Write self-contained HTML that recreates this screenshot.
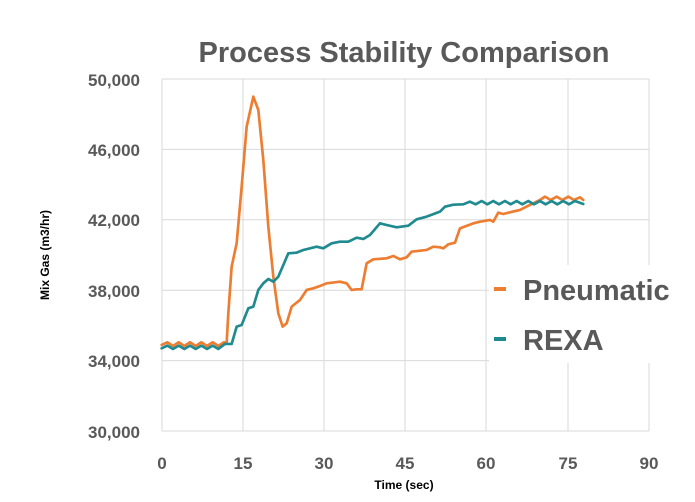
<!DOCTYPE html>
<html><head><style>
html,body{margin:0;padding:0;background:#fff;}
svg{display:block;font-family:"Liberation Sans",sans-serif;}
</style></head><body>
<svg width="695" height="502" viewBox="0 0 695 502">
<rect width="695" height="502" fill="#fff"/>
<text x="404" y="62" text-anchor="middle" font-size="29" font-weight="bold" fill="#595959">Process Stability Comparison</text>
<g stroke="#d9d9d9" stroke-width="1">
<line x1="162" y1="79" x2="649" y2="79"/><line x1="162" y1="149.4" x2="649" y2="149.4"/>
<line x1="162" y1="219.8" x2="649" y2="219.8"/><line x1="162" y1="290.2" x2="649" y2="290.2"/>
<line x1="162" y1="360.6" x2="649" y2="360.6"/><line x1="162" y1="431" x2="649" y2="431"/>
<line x1="162" y1="79" x2="162" y2="431"/><line x1="243" y1="79" x2="243" y2="431"/>
<line x1="324" y1="79" x2="324" y2="431"/><line x1="405" y1="79" x2="405" y2="431"/>
<line x1="486" y1="79" x2="486" y2="431"/><line x1="568" y1="79" x2="568" y2="431"/>
<line x1="649" y1="79" x2="649" y2="431"/>
</g>
<g font-size="17" font-weight="bold" fill="#595959" text-anchor="end">
<text x="140" y="86">50,000</text><text x="140" y="156">46,000</text>
<text x="140" y="226">42,000</text><text x="140" y="297">38,000</text>
<text x="140" y="367">34,000</text><text x="140" y="438">30,000</text>
</g>
<g font-size="17" font-weight="bold" fill="#595959" text-anchor="middle">
<text x="162" y="469">0</text><text x="243" y="469">15</text><text x="324" y="469">30</text>
<text x="405" y="469">45</text><text x="486" y="469">60</text><text x="568" y="469">75</text><text x="649" y="469">90</text>
</g>
<text x="404" y="489" text-anchor="middle" font-size="12" font-weight="bold" fill="#000">Time (sec)</text>
<text transform="translate(49,255) rotate(-90)" text-anchor="middle" font-size="12" font-weight="bold" fill="#000">Mix Gas (m3/hr)</text>
<g transform="translate(140,60) scale(0.3333)" fill="none" stroke-width="8" stroke-linejoin="round" stroke-linecap="round">
<polyline stroke="#ed7d31" points="65,855 82,847 99,858 116,847 133,858 150,847 167,858 184,847 201,858 218,847 235,858 252,847 260,848 265,760 275,620 290,550 305,380 320,200 340,110 355,150 370,300 385,500 400,650 415,760 428,800 440,790 455,740 480,720 500,690 520,685 540,678 560,670 600,665 620,670 635,690 650,688 665,688 680,610 700,598 740,595 760,588 780,598 800,592 815,575 860,570 880,560 900,562 910,565 925,553 945,548 960,505 1000,490 1020,485 1050,480 1060,485 1075,458 1090,462 1110,457 1140,450 1170,435 1200,420 1215,410 1232,420 1250,410 1267,420 1285,410 1302,420 1320,412 1330,420"/>
<polyline stroke="#1f8a8f" points="65,865 82,857 99,867 116,857 133,867 150,857 167,867 184,857 201,867 218,857 235,867 255,852 275,852 290,800 305,795 325,745 340,740 355,690 370,670 385,657 400,665 415,650 430,615 445,580 470,578 490,570 530,560 550,565 575,550 600,545 625,545 650,533 670,537 690,525 720,490 740,495 770,502 805,497 830,478 860,470 900,455 915,440 940,434 970,433 990,425 1007,433 1025,423 1042,433 1060,423 1077,433 1095,423 1112,433 1130,423 1147,433 1165,423 1182,433 1200,423 1217,433 1235,423 1252,433 1270,423 1287,433 1305,423 1330,432"/>
</g>
<rect x="489" y="265" width="165" height="98" fill="#fff"/>
<line x1="494" y1="289" x2="506" y2="289" stroke="#ed7d31" stroke-width="4"/>
<line x1="494" y1="339" x2="506" y2="339" stroke="#1f8a8f" stroke-width="4"/>
<text x="523" y="300" font-size="29" font-weight="bold" fill="#595959">Pneumatic</text>
<text x="523" y="350" font-size="29" font-weight="bold" fill="#595959">REXA</text>
</svg>
</body></html>
